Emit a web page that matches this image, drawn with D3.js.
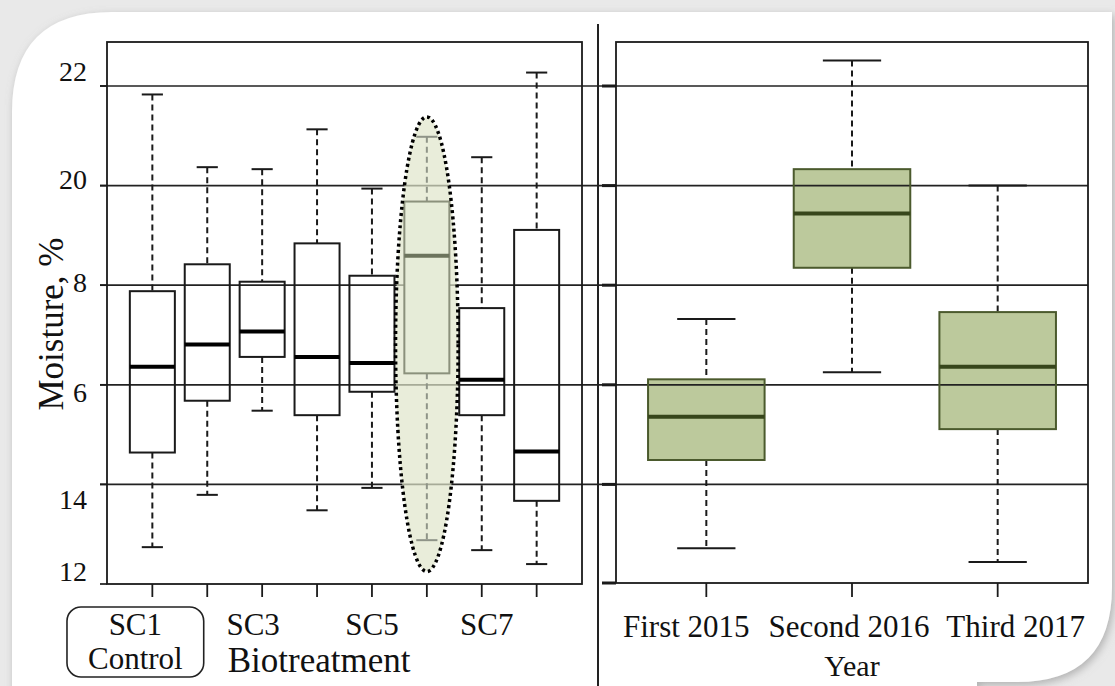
<!DOCTYPE html>
<html>
<head>
<meta charset="utf-8">
<script src="https://cdn.jsdelivr.net/npm/d3@7"></script>
<style>
  html, body { margin: 0; padding: 0; background: #e8e8e8; }
  svg { display: block; }
  text { font-family: "Liberation Serif", "Times New Roman", serif; fill: #111; }
</style>
</head>
<body>
<svg id="chart" width="1115" height="686"></svg>
<script>
// ---------------- DATA ----------------
const treatments = ["SC1", "SC2", "SC3", "SC4", "SC5", "SC6", "SC7", "SC8"];
const treatmentTickLabels = ["SC1", "", "SC3", "", "SC5", "", "SC7", ""];
const treatmentLow    = [12.74, 13.79, 15.48, 13.48, 13.93, 12.88, 12.68, 12.40];
const treatmentQ1     = [14.64, 15.68, 16.56, 15.39, 15.86, 16.23, 15.39, 13.67];
const treatmentMedian = [16.36, 16.81, 17.07, 16.56, 16.44, 18.59, 16.10, 14.66];
const treatmentQ3     = [17.88, 18.42, 18.07, 18.84, 18.19, 19.68, 17.54, 19.11];
const treatmentHigh   = [21.83, 20.37, 20.33, 21.13, 19.94, 20.98, 20.57, 22.27];
const highlighted = "SC6";
const highlightExtent = [12.25, 21.38];   // dotted ellipse, in moisture units

const years = ["First 2015", "Second 2016", "Third 2017"];
const yearLow    = [12.72, 16.25, 12.44];
const yearQ1     = [14.49, 18.35, 15.11];
const yearMedian = [15.36, 19.44, 16.36];
const yearQ3     = [16.11, 20.33, 17.46];
const yearHigh   = [17.32, 22.51, 20.00];

const yTicks = [12, 14, 16, 18, 20, 22];
const yTickLabels = ["12", "14", "6", "8", "20", "22"];

const yTitle = "Moisture, %";
const leftTitle = "Biotreatment";
const rightTitle = "Year";
const controlLabel = "Control";

// ---------------- LAYOUT ----------------
const svg = d3.select("#chart");
const W = 1115, H = 686;
const L = { x0: 107, x1: 582, y0: 42, y1: 584 };
const R = { x0: 616, x1: 1088, y0: 42, y1: 583 };

const y = d3.scaleLinear().domain([12, 22]).range([584, 86]);
const xL = d3.scalePoint().domain(treatments).range([L.x0, L.x1]).padding(0.826);
const xR = d3.scalePoint().domain(years).range([R.x0, R.x1]).padding(0.62);

// background card
const defs = svg.append("defs");
const f = defs.append("filter").attr("id", "shadow").attr("x", "-5%").attr("y", "-5%").attr("width", "110%").attr("height", "110%");
f.append("feDropShadow").attr("dx", 2).attr("dy", 3).attr("stdDeviation", 4).attr("flood-color", "#8a8a8a").attr("flood-opacity", 0.6);

svg.append("rect").attr("width", W).attr("height", H).attr("fill", "#e9e9e9");
const cl = 12, ct = 12, cr = 1112, cb = 682, rTL = 100, rBR = 95;
svg.append("path")
  .attr("d", `M${cl},${H + 10} L${cl},${ct + rTL} Q${cl},${ct} ${cl + rTL},${ct} L${cr},${ct} L${cr},${cb - rBR} Q${cr},${cb} ${cr - rBR},${cb} L${cr - rBR - 40},${cb} L${cr - rBR - 40},${H + 10} Z`)
  .attr("fill", "#ffffff")
  .attr("filter", "url(#shadow)");

const g = svg.append("g");

// ---------------- helper ----------------
const treatData = treatments.map((k, i) => ({
  key: k, low: treatmentLow[i], q1: treatmentQ1[i], med: treatmentMedian[i], q3: treatmentQ3[i], high: treatmentHigh[i]
}));
const yearData = years.map((k, i) => ({
  key: k, low: yearLow[i], q1: yearQ1[i], med: yearMedian[i], q3: yearQ3[i], high: yearHigh[i]
}));

// right panel box fills (under grid)
const boxWR = xR.step() * 0.8;
const capWR = boxWR * 0.5;
g.selectAll(".rfill").data(yearData).join("rect")
  .attr("x", d => xR(d.key) - boxWR / 2)
  .attr("y", d => y(d.q3))
  .attr("width", boxWR)
  .attr("height", d => y(d.q1) - y(d.q3))
  .attr("fill", "#bcc99c");

// gridlines across both panels
const gridTicks = yTicks.filter(t => t > 12);
g.selectAll(".grid").data(gridTicks).join("line")
  .attr("x1", 100).attr("x2", R.x1)
  .attr("y1", d => y(d)).attr("y2", d => y(d))
  .attr("stroke", "#222").attr("stroke-width", 1.7);

// highlight ellipse fill
const hx = xL(highlighted);
const ey0 = y(highlightExtent[1]), ey1 = y(highlightExtent[0]);
const ellipse = { cx: hx, cy: (ey0 + ey1) / 2, rx: xL.step() * 0.57, ry: (ey1 - ey0) / 2 };
g.append("ellipse")
  .attr("cx", ellipse.cx).attr("cy", ellipse.cy).attr("rx", ellipse.rx).attr("ry", ellipse.ry)
  .attr("fill", "#dfe6cb").attr("fill-opacity", 0.7);

// frames
g.append("rect").attr("x", L.x0).attr("y", L.y0).attr("width", L.x1 - L.x0).attr("height", L.y1 - L.y0)
  .attr("fill", "none").attr("stroke", "#1a1a1a").attr("stroke-width", 1.8);
g.append("rect").attr("x", R.x0).attr("y", R.y0).attr("width", R.x1 - R.x0).attr("height", R.y1 - R.y0)
  .attr("fill", "none").attr("stroke", "#1a1a1a").attr("stroke-width", 1.8);

// separator
g.append("line").attr("x1", 598).attr("x2", 598).attr("y1", 24).attr("y2", H)
  .attr("stroke", "#222").attr("stroke-width", 2);

// left y-axis ticks
g.selectAll(".lyt").data(yTicks).join("line")
  .attr("x1", 100).attr("x2", L.x0).attr("y1", d => y(d)).attr("y2", d => y(d))
  .attr("stroke", "#1a1a1a").attr("stroke-width", 1.7);
// right y-axis ticks (thick)
g.selectAll(".ryt").data(yTicks).join("line")
  .attr("x1", 602).attr("x2", R.x0).attr("y1", d => Math.min(y(d), R.y1)).attr("y2", d => Math.min(y(d), R.y1))
  .attr("stroke", "#1a1a1a").attr("stroke-width", 3);

// y tick labels
const yLabelNudge = [-12, 16, 8, -2, -6, -14];
g.selectAll(".ylab").data(yTicks).join("text")
  .attr("x", 87).attr("y", (d, i) => y(d) + 9 + yLabelNudge[i])
  .attr("text-anchor", "end").attr("font-size", 28)
  .text((d, i) => yTickLabels[i]);

// y title
g.append("text")
  .attr("transform", `translate(63,324) rotate(-90)`)
  .attr("text-anchor", "middle").attr("font-size", 35)
  .text(yTitle);

// ---------------- boxplots ----------------
const boxWL = xL.step() * 0.82;
const capWL = boxWL * 0.47;
function drawBoxes(sel, data, x, bw, cw, style) {
  const bg = sel.selectAll(null).data(data).join("g");
  // whiskers
  bg.append("line").attr("x1", d => x(d.key)).attr("x2", d => x(d.key))
    .attr("y1", d => y(d.high)).attr("y2", d => y(d.q3))
    .attr("stroke", d => style(d).whisker).attr("stroke-width", 2).attr("stroke-dasharray", "6,4");
  bg.append("line").attr("x1", d => x(d.key)).attr("x2", d => x(d.key))
    .attr("y1", d => y(d.q1)).attr("y2", d => y(d.low))
    .attr("stroke", d => style(d).whisker).attr("stroke-width", 2).attr("stroke-dasharray", "6,4");
  // caps
  bg.append("line").attr("x1", d => x(d.key) - cw / 2).attr("x2", d => x(d.key) + cw / 2)
    .attr("y1", d => y(d.high)).attr("y2", d => y(d.high))
    .attr("stroke", d => style(d).whisker).attr("stroke-width", 2);
  bg.append("line").attr("x1", d => x(d.key) - cw / 2).attr("x2", d => x(d.key) + cw / 2)
    .attr("y1", d => y(d.low)).attr("y2", d => y(d.low))
    .attr("stroke", d => style(d).whisker).attr("stroke-width", 2);
  // box
  bg.append("rect").attr("x", d => x(d.key) - bw / 2).attr("y", d => y(d.q3))
    .attr("width", bw).attr("height", d => y(d.q1) - y(d.q3))
    .attr("fill", d => style(d).fill).attr("stroke", d => style(d).stroke).attr("stroke-width", 2);
  // median
  bg.append("line").attr("x1", d => x(d.key) - bw / 2).attr("x2", d => x(d.key) + bw / 2)
    .attr("y1", d => y(d.med)).attr("y2", d => y(d.med))
    .attr("stroke", d => style(d).median).attr("stroke-width", 4);
}

drawBoxes(g, treatData, xL, boxWL, capWL, d => d.key === highlighted
  ? { whisker: "#8f9488", stroke: "#8b917c", fill: "#e6ecd8", median: "#6c745d" }
  : { whisker: "#1a1a1a", stroke: "#1a1a1a", fill: "none", median: "#000" });

// dotted ellipse outline
g.append("ellipse")
  .attr("cx", ellipse.cx).attr("cy", ellipse.cy).attr("rx", ellipse.rx).attr("ry", ellipse.ry)
  .attr("fill", "none").attr("stroke", "#000").attr("stroke-width", 3.5).attr("stroke-dasharray", "3,3.2");

drawBoxes(g, yearData, xR, boxWR, capWR, d => ({ whisker: "#1a1a1a", stroke: "#4b5a2d", fill: "none", median: "#37461b" }));

// x tick marks
g.selectAll(".lxt").data(treatments).join("line")
  .attr("x1", d => xL(d)).attr("x2", d => xL(d)).attr("y1", L.y1).attr("y2", L.y1 + 13)
  .attr("stroke", "#1a1a1a").attr("stroke-width", 1.8);
g.selectAll(".rxt").data(years).join("line")
  .attr("x1", d => xR(d)).attr("x2", d => xR(d)).attr("y1", R.y1).attr("y2", R.y1 + 14)
  .attr("stroke", "#1a1a1a").attr("stroke-width", 1.8);

// x tick labels
const leftDx = { SC1: -17, SC3: -9, SC5: 0, SC7: 5 };
const lLabels = treatments.map((k, i) => ({ key: k, label: treatmentTickLabels[i] })).filter(d => d.label);
g.selectAll(".lxl").data(lLabels).join("text")
  .attr("x", d => xL(d.key) + (leftDx[d.key] || 0)).attr("y", 635)
  .attr("text-anchor", "middle").attr("font-size", 31)
  .text(d => d.label);

const sc1x = xL("SC1") + leftDx.SC1;
const ctrl = g.append("text").attr("x", sc1x).attr("y", 669)
  .attr("text-anchor", "middle").attr("font-size", 31).text(controlLabel);
const cb1 = ctrl.node().getBBox();
const boxPadX = 21;
g.append("rect")
  .attr("x", cb1.x - boxPadX).attr("y", 607)
  .attr("width", cb1.width + 2 * boxPadX).attr("height", 70)
  .attr("rx", 14).attr("fill", "none").attr("stroke", "#222").attr("stroke-width", 1.6);

g.append("text").attr("x", cb1.x + cb1.width + boxPadX + 24).attr("y", 672)
  .attr("text-anchor", "start").attr("font-size", 35).text(leftTitle);

const rightDx = [-20, -3, 18];
g.selectAll(".rxl").data(years).join("text")
  .attr("x", (d, i) => xR(d) + rightDx[i]).attr("y", 637)
  .attr("text-anchor", "middle").attr("font-size", 31)
  .text(d => d);

g.append("text").attr("x", xR(years[1])).attr("y", 676)
  .attr("text-anchor", "middle").attr("font-size", 30).text(rightTitle);
</script>
</body>
</html>
